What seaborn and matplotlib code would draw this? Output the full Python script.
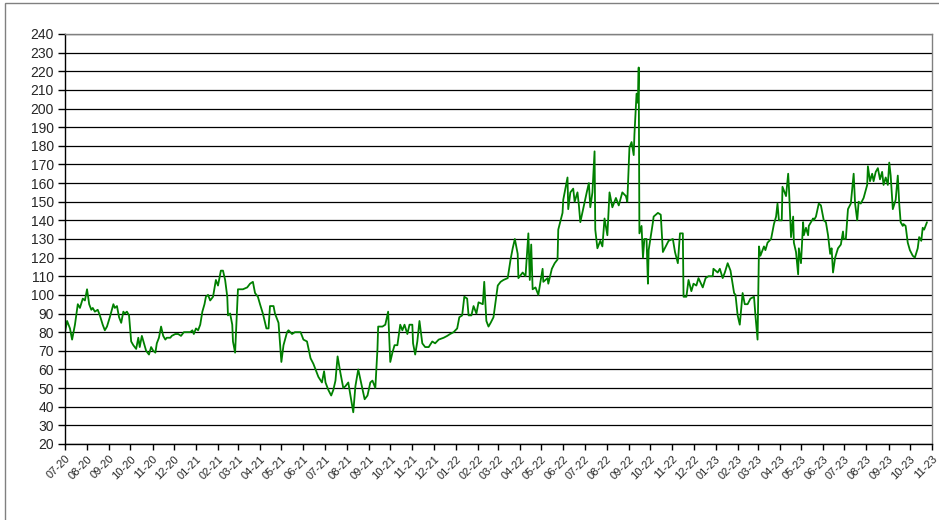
import pandas as pd
import matplotlib
matplotlib.use("Agg")
import matplotlib.pyplot as plt
from matplotlib.patches import Rectangle
import seaborn as sns

# days counted from 2020-07-01
start = "2020-07-01"

days_2020 = [0, 3, 7, 10, 14, 18, 21, 25, 28, 31, 34, 37, 39, 42, 46, 49, 53, 56, 59, 63,
             68, 70, 73, 76, 79, 82, 84, 87, 90, 93, 96, 100, 103, 105, 108, 111, 114, 118,
             121, 124, 127, 129, 132, 135, 138, 141, 143, 148, 150, 155, 159, 163, 167, 172,
             176, 179, 181]
price_2020 = [80, 86, 82, 76, 84, 95, 93, 98, 97, 103, 95, 92, 93, 91, 92, 89, 84, 81, 83, 88,
              95, 93, 94, 88, 85, 91, 90, 91, 89, 75, 73, 71, 77, 72, 78, 74, 70, 68,
              72, 70, 69, 74, 77, 83, 78, 76, 77, 77, 78, 79, 79, 78, 80, 80,
              80, 81, 79]

days_2021 = [184, 187, 190, 193, 196, 198, 201, 204, 208, 212, 215, 219, 222, 225, 228, 229,
             232, 235, 236, 239, 242, 243, 246, 250, 256, 260, 264, 267, 271, 274, 278, 283,
             286, 288, 293, 295, 300, 304, 307, 312, 314, 319, 323, 328, 331, 335, 340, 345,
             349, 352, 356, 361, 364, 366, 370, 374, 377, 380, 383, 387, 391, 394, 398, 401,
             405, 408, 412, 416, 421, 425, 429, 432, 436, 439, 440, 446, 450, 454, 457, 460,
             463, 467, 471, 474, 477, 481, 484, 488, 489, 492, 495, 498, 502, 506, 511, 516,
             520, 525, 532, 537, 541, 546]
price_2021 = [82, 81, 84, 91, 95, 99, 100, 97, 99, 108, 105, 113, 113, 108, 99, 89,
              90, 84, 75, 69, 94, 103, 103, 103, 104, 106, 107, 101, 99, 95, 90, 82,
              82, 94, 94, 90, 85, 64, 73, 80, 81, 79, 80, 80, 80, 76, 75, 66,
              63, 60, 56, 53, 59, 53, 49, 46, 49, 54, 67, 58, 50, 51, 53, 46,
              37, 51, 60, 53, 44, 46, 53, 54, 50, 71, 83, 83, 84, 91, 64, 69,
              73, 73, 84, 81, 84, 79, 84, 84, 74, 68, 75, 86, 74, 72, 72, 75,
              74, 76, 77, 78, 79, 80]

days_2022 = [551, 554, 558, 561, 565, 567, 571, 574, 578, 581, 587, 589, 592, 595, 598, 602,
             608, 612, 616, 622, 626, 629, 632, 636, 637, 643, 647, 651, 653, 655, 657, 661,
             665, 671, 672, 678, 679, 684, 688, 692, 693, 699, 700, 706, 707, 710, 714, 716,
             720, 722, 724, 729, 733, 736, 738, 741, 744, 745, 748, 752, 755, 758, 762, 765,
             769, 774, 778, 783, 788, 790, 793, 796, 799, 800, 803, 805, 806, 807, 810, 812,
             814, 817, 819, 820, 826, 827, 833, 837, 840, 844, 848, 854, 857, 861, 864, 868,
             869, 873, 876, 880, 883, 887, 890, 896, 900, 904, 910, 911]
price_2022 = [82, 88, 89, 99, 98, 89, 89, 94, 90, 96, 95, 107, 86, 83, 85, 88,
              105, 107, 108, 109, 119, 125, 130, 122, 109, 112, 110, 133, 108, 127, 103, 104,
              100, 114, 107, 109, 106, 114, 117, 119, 135, 144, 151, 163, 146, 155, 157, 150,
              155, 148, 139, 148, 155, 160, 147, 155, 177, 135, 125, 129, 126, 141, 132, 155,
              147, 152, 148, 155, 153, 150, 179, 182, 175, 186, 208, 203, 222, 133, 137, 120,
              130, 130, 106, 124, 139, 142, 144, 143, 123, 126, 129, 130, 123, 117, 133, 133,
              99, 99, 108, 102, 106, 105, 109, 104, 109, 110, 110, 114]

days_2023 = [917, 920, 924, 927, 931, 935, 940, 942, 945, 948, 952, 955, 959, 963, 968, 970,
             973, 975, 977, 982, 984, 987, 992, 996, 999, 1001, 1003, 1007, 1008, 1013, 1016,
             1017, 1020, 1023, 1024, 1027, 1030, 1031, 1034, 1037, 1038, 1041, 1044, 1045,
             1051, 1052, 1055, 1059, 1062, 1066, 1069, 1072, 1075, 1077, 1079, 1082, 1086,
             1090, 1093, 1094, 1097, 1100, 1104, 1108, 1110, 1113, 1115, 1118, 1122, 1127,
             1128, 1131, 1134, 1136, 1139, 1142, 1145, 1148, 1150, 1153, 1156, 1158, 1160,
             1163, 1167, 1170, 1172, 1174, 1177, 1178, 1181, 1184, 1187, 1191, 1194, 1198,
             1200, 1203, 1205, 1207, 1211]
price_2023 = [112, 114, 109, 112, 117, 113, 101, 100, 89, 84, 101, 95, 95, 98, 99, 89,
              76, 126, 121, 126, 124, 128, 130, 138, 142, 149, 140, 140, 158, 153, 165,
              158, 131, 142, 128, 123, 111, 125, 117, 139, 132, 136, 132, 137,
              141, 140, 142, 149, 148, 140, 139, 132, 122, 125, 112, 120, 125,
              127, 134, 130, 130, 146, 149, 165, 149, 140, 150, 149, 152, 159,
              169, 161, 165, 161, 166, 168, 162, 166, 159, 163, 159, 171, 164,
              146, 151, 164, 149, 139, 137, 138, 137, 128, 124, 121, 120, 125,
              131, 129, 136, 135, 139]

months = pd.date_range("2020-07-01", "2023-11-01", freq="MS")
month_labels = [m.strftime("%m-%y") for m in months]

df = pd.DataFrame({
    "day": days_2020 + days_2021 + days_2022 + days_2023,
    "price": price_2020 + price_2021 + price_2022 + price_2023,
})
df["date"] = pd.Timestamp(start) + pd.to_timedelta(df["day"], unit="D")

sns.set_style("white")
plt.rcParams["font.family"] = ["Liberation Sans", "DejaVu Sans"]

fig = plt.figure(figsize=(9.39, 5.20), dpi=100)
ax = fig.add_axes([0.0692, 0.1462, 0.9233, 0.7885])

sns.lineplot(data=df, x="date", y="price", ax=ax, color="#008000", linewidth=1.3)

ax.set_ylim(20, 240)
ax.set_yticks(range(20, 241, 10))
ax.yaxis.grid(True, color="black", linewidth=0.9)
ax.xaxis.grid(False)
ax.set_axisbelow(True)

ax.set_xlim(months[0], months[-1])
ax.set_xticks(months)
ax.set_xticklabels(month_labels, rotation=45, ha="right", va="top", rotation_mode="anchor")
ax.set_xlabel("")
ax.set_ylabel("")

ax.tick_params(axis="y", left=True, direction="out", length=5, width=1, color="black",
               labelsize=10, pad=3)
ax.tick_params(axis="x", bottom=True, direction="out", length=4, width=1, color="black",
               labelsize=8, pad=3)

ax.spines["left"].set_color("black")
ax.spines["bottom"].set_color("black")
ax.spines["right"].set_color("#808080")
ax.spines["top"].set_color("#808080")
for s in ax.spines.values():
    s.set_linewidth(1)

# outer chart frame
fig.add_artist(Rectangle((4.5 / 939, -0.05), 1.1, 1.05 - 2.5 / 520,
                         transform=fig.transFigure, fill=False,
                         edgecolor="#808080", linewidth=1))

fig.savefig("out.png", dpi=100)
